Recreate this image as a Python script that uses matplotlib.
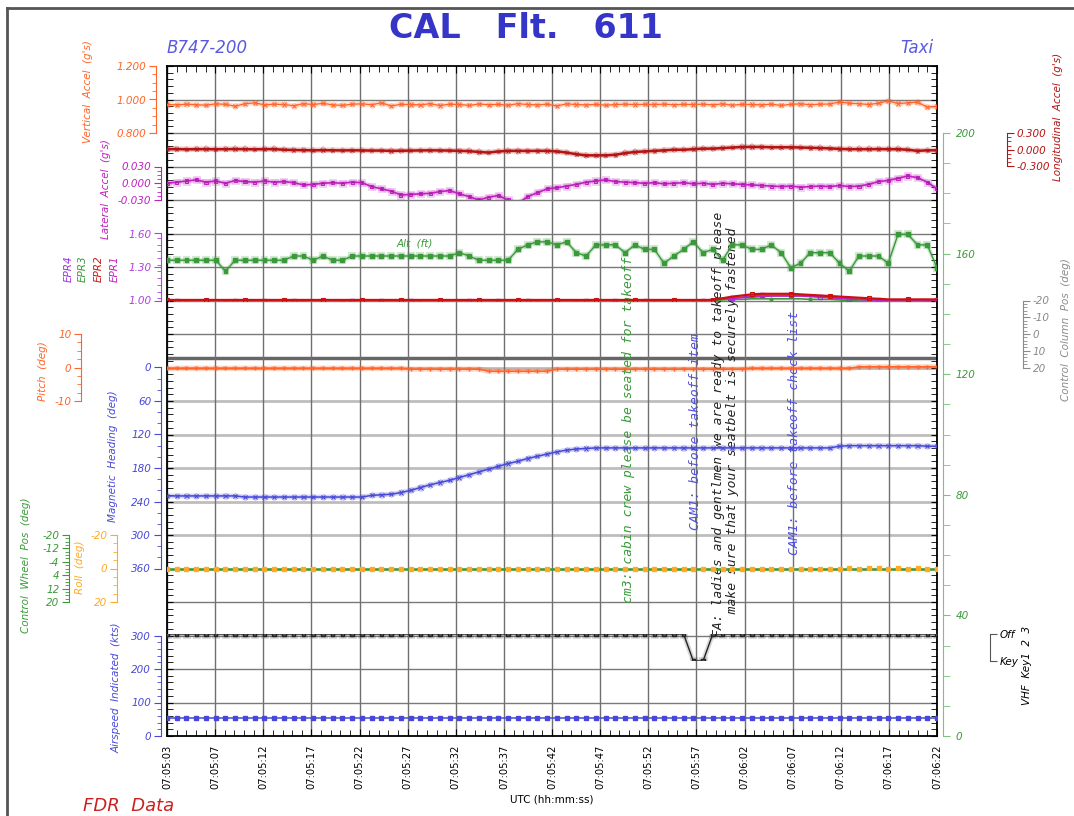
import numpy as np
import matplotlib.pyplot as plt
import matplotlib.patheffects as pe
from matplotlib.ticker import AutoMinorLocator, MultipleLocator

# ---- data (1 Hz samples, 07:05:03 .. 07:06:22) ----
t = np.arange(80)
time_labels = ['07:05:03', '07:05:07', '07:05:12', '07:05:17', '07:05:22', '07:05:27',
               '07:05:32', '07:05:37', '07:05:42', '07:05:47', '07:05:52', '07:05:57',
               '07:06:02', '07:06:07', '07:06:12', '07:06:17', '07:06:22']

vert_accel = [0.970, 0.968, 0.972, 0.969, 0.966, 0.974, 0.971, 0.960, 0.975, 0.980,
              0.968, 0.972, 0.970, 0.963, 0.975, 0.970, 0.977, 0.968, 0.965, 0.972,
              0.974, 0.969, 0.980, 0.962, 0.971, 0.970, 0.968, 0.975, 0.964, 0.972,
              0.970, 0.965, 0.973, 0.969, 0.971, 0.966, 0.975, 0.970, 0.968, 0.972,
              0.962, 0.974, 0.970, 0.968, 0.971, 0.966, 0.970, 0.972, 0.970, 0.971,
              0.970, 0.972, 0.969, 0.971, 0.970, 0.972, 0.968, 0.974, 0.966, 0.971,
              0.970, 0.968, 0.972, 0.965, 0.971, 0.974, 0.969, 0.972, 0.973, 0.985,
              0.978, 0.975, 0.970, 0.978, 0.992, 0.976, 0.980, 0.984, 0.955, 0.958]

long_accel = [0.010, 0.012, 0.008, 0.010, 0.011, 0.009, 0.010, 0.012, 0.010, 0.008,
              0.010, 0.011, 0.000, -0.005, -0.008, -0.010, -0.008, -0.010, -0.012, -0.010,
              -0.012, -0.015, -0.015, -0.020, -0.018, -0.015, -0.012, -0.010, -0.012, -0.015,
              -0.020, -0.025, -0.040, -0.050, -0.030, -0.020, -0.020, -0.022, -0.020, -0.020,
              -0.030, -0.050, -0.080, -0.100, -0.100, -0.100, -0.090, -0.060, -0.040, -0.030,
              -0.020, -0.010, 0.000, 0.000, 0.010, 0.020, 0.020, 0.030, 0.040, 0.050,
              0.050, 0.050, 0.045, 0.045, 0.045, 0.040, 0.035, 0.030, 0.025, 0.015,
              0.010, 0.010, 0.010, 0.012, 0.010, 0.010, 0.000, -0.020, -0.010, -0.010]

lat_accel = [0.000, 0.002, 0.004, 0.006, 0.002, 0.004, 0.000, 0.005, 0.003, 0.002,
             0.004, 0.002, 0.003, 0.001, -0.003, -0.002, 0.000, 0.001, 0.000, 0.002,
             0.001, -0.006, -0.010, -0.014, -0.021, -0.020, -0.019, -0.018, -0.015, -0.013,
             -0.019, -0.024, -0.030, -0.025, -0.022, -0.030, -0.036, -0.024, -0.017, -0.010,
             -0.008, -0.005, -0.002, 0.002, 0.004, 0.006, 0.003, 0.002, 0.001, 0.000,
             0.001, -0.001, 0.000, 0.001, -0.001, 0.000, -0.002, 0.000, -0.001, -0.002,
             -0.003, -0.004, -0.005, -0.006, -0.005, -0.007, -0.006, -0.005, -0.006, -0.004,
             -0.006, -0.005, -0.002, 0.003, 0.005, 0.009, 0.013, 0.010, 0.002, -0.010]

epr1 = [1.000] * 56 + [1.010, 1.015, 1.020, 1.025, 1.030, 1.035, 1.040, 1.040, 1.040, 1.040,
                       1.035, 1.030, 1.025, 1.020, 1.015, 1.010, 1.010] + [1.005] * 7
epr2 = [1.005] * 57 + [1.020, 1.035, 1.045, 1.055, 1.060, 1.060, 1.060, 1.060,
                       1.055, 1.050, 1.045, 1.040, 1.035, 1.030, 1.025, 1.020, 1.015] + [1.010] * 6
epr3 = [0.995] * 56 + [1.000, 1.005, 1.010, 1.010, 1.015, 1.015, 1.015, 1.015, 1.015, 1.015,
                       1.010, 1.010, 1.010, 1.005, 1.000] + [0.995] * 9
epr4 = [1.000] * 56 + [1.010, 1.020, 1.025, 1.030, 1.040, 1.045, 1.045, 1.045, 1.045, 1.045,
                       1.040, 1.035, 1.030, 1.020, 1.015, 1.010] + [1.005] * 8

alt_ft = [157.8, 157.8, 157.8, 157.8, 157.8, 157.8, 154.2, 157.8, 157.8, 157.8,
          157.8, 157.8, 157.8, 159.2, 159.2, 157.8, 159.2, 157.8, 157.8, 159.2,
          159.2, 159.2, 159.2, 159.2, 159.2, 159.2, 159.2, 159.2, 159.2, 159.2,
          160.3, 159.2, 157.8, 157.8, 157.8, 157.8, 161.4, 162.9, 163.9, 163.9,
          162.9, 163.9, 160.3, 159.2, 162.9, 162.9, 162.9, 160.3, 162.9, 161.4,
          161.4, 156.8, 159.2, 161.4, 163.9, 160.3, 161.4, 157.8, 162.9, 162.9,
          161.4, 161.4, 162.9, 160.3, 155.3, 156.8, 160.3, 160.3, 160.3, 156.8,
          154.2, 159.2, 159.2, 159.2, 156.8, 166.4, 166.4, 162.9, 162.9, 155.3]

pitch = [-0.25] * 25 + [-0.5] * 8 + [-1.1] * 7 + [-0.5] * 20 + [-0.25] * 11 + [0.2] * 9

heading = ([230] * 8 + [232] * 13 +
           [229, 228, 227, 224, 220, 215, 210, 206, 202, 197,
            192, 187, 182, 177, 172, 168, 163, 159, 155, 151] +
           [148, 146, 145] + [144] * 25 +
           [141, 140, 140, 140, 140, 140, 140, 140, 140, 141, 141])

roll = [0.0] * 70 + [-0.5, 0.0, -0.5, -0.5, 0.0, -0.5, 0.0, -0.5, 0.0, 0.0]
wheel = [0.0] * 80
airspeed = [54.5] * 80
vhf_key = [0] * 54 + [1, 1] + [0] * 24

# ---- layout (pixels of the 1074x816 picture) ----
W, H = 1074, 816
L, R, T, B = 167, 937, 66, 736
CELL = 33.5


def fx(px):
    return px / W


def fy(py):
    return 1 - py / H


def gy(py):  # grid units of the main axes
    return (B - py) / CELL


def halo(c, w=3.5):
    return [pe.Stroke(linewidth=w, foreground=c, alpha=0.22), pe.Normal()]


fig = plt.figure(figsize=(W / 100, H / 100), dpi=100)
fig.patch.set_facecolor('white')

# outer frame
fig.add_artist(plt.Line2D([fx(7), fx(7)], [fy(8), 0], color='#555555', lw=2))
fig.add_artist(plt.Line2D([fx(7), 1], [fy(8), fy(8)], color='#555555', lw=2))

ax = fig.add_axes([fx(L), fy(B), fx(R) - fx(L), (B - T) / H])
ax.set_xlim(0, 79)
ax.set_ylim(0, 20)
ax.set_xticks(np.linspace(0, 79, 17), time_labels, rotation=90, fontsize=7.2)
ax.xaxis.set_minor_locator(AutoMinorLocator(5))
ax.set_yticks(range(21), [''] * 21)
ax.yaxis.set_minor_locator(AutoMinorLocator(5))
ax.tick_params(axis='x', which='both', direction='in', top=True, pad=6)
ax.tick_params(axis='x', which='major', length=5)
ax.tick_params(axis='x', which='minor', length=4)
ax.tick_params(axis='y', which='both', direction='in', left=True, right=True, length=4)
ax.grid(axis='x', color='#707070', lw=1)
light_rows = [6, 7, 8, 9, 10, 11]
for k in range(1, 20):
    if k in light_rows:
        ax.axhline(k, color='#bdbdbd', lw=2, zorder=0.5)
    else:
        ax.axhline(k, color='#7a7a7a', lw=1, zorder=0.5)
ax.axhline(gy(357.5), color='#666666', lw=2.5, zorder=0.6)
for s in ax.spines.values():
    s.set_color('black')
    s.set_linewidth(1.3)
ax.text(0.5, -0.095, 'UTC (hh:mm:ss)', transform=ax.transAxes, ha='center', va='center', fontsize=7.5)


def band(top, bot, lo, hi, side, spine_x, color, ticks, labels, minor=None, lab_color=None):
    a = fig.add_axes([fx(L), fy(bot), fx(R) - fx(L), (bot - top) / H])
    a.patch.set_alpha(0)
    a.set_xlim(0, 79)
    a.set_ylim(lo, hi)
    a.xaxis.set_visible(False)
    for s in a.spines.values():
        s.set_visible(False)
    sp = a.spines[side]
    sp.set_visible(True)
    sp.set_color(color)
    sp.set_position(('axes', (spine_x - L) / (R - L)))
    a.yaxis.set_ticks_position(side)
    a.set_yticks(ticks, labels, fontstyle='italic', fontsize=7.5, color=lab_color or color)
    if minor is not None:
        a.yaxis.set_minor_locator(minor)
    a.tick_params(axis='y', which='major', length=5, color=color, pad=2)
    a.tick_params(axis='y', which='minor', length=3, color=color)
    return a


C_VA, C_LA, C_LAT = '#ff6428', '#b41414', '#c020c0'
C_EPR, C_GRN, C_BLU = '#b040e0', '#3a9a3a', '#4848d8'
C_ROLL, C_COL = '#ffaa22', '#8a8a8a'

a_va = band(T, T + 2 * CELL, 0.8, 1.2, 'left', 156, C_VA, [0.8, 1.0, 1.2],
            ['0.800', '1.000', '1.200'], MultipleLocator(0.05))
a_va.plot(t, vert_accel, color=C_VA, lw=0.9, marker='x', ms=3, mew=0.7, path_effects=halo(C_VA))

a_lo = band(T + 2 * CELL, T + 3 * CELL, -0.3, 0.3, 'right', 1007, C_LA, [-0.3, 0, 0.3],
            ['-0.300', '0.000', '0.300'], MultipleLocator(0.075))
a_lo.plot(t, long_accel, color=C_LA, lw=1.8, marker='x', ms=2.5, mew=0.6, path_effects=halo(C_LA, 4))

a_lat = band(T + 3 * CELL, T + 4 * CELL, -0.03, 0.03, 'left', 161, C_LAT, [-0.03, 0, 0.03],
             ['-0.030', '0.000', '0.030'], MultipleLocator(0.0075))
a_lat.plot(t, lat_accel, color=C_LAT, lw=1.2, marker='s', ms=2.2, mfc='none', mew=0.7,
           path_effects=halo(C_LAT))

a_epr = band(T + 5 * CELL, T + 7 * CELL, 1.0, 1.6, 'left', 161, C_EPR, [1.0, 1.3, 1.6],
             ['1.00', '1.30', '1.60'], MultipleLocator(0.06))
a_epr.plot(t, epr3, color=C_GRN, lw=1.2, marker='o', ms=2, markevery=(2, 4))
a_epr.plot(t, epr4, color='#9a30e0', lw=1.2, marker='s', ms=2.5, mfc='none', markevery=(1, 3))
a_epr.plot(t, epr1, color=C_LAT, lw=1.2)
a_epr.plot(t, epr2, color='#cc1010', lw=1.6, marker='s', ms=3, mfc='none', mew=0.8, markevery=(0, 4))

a_cc = band(T + 7 * CELL, T + 9 * CELL, 20, -20, 'right', 1023, C_COL, [-20, -10, 0, 10, 20],
            ['-20', '-10', '0', '10', '20'], MultipleLocator(2))

a_pi = band(T + 8 * CELL, T + 10 * CELL, -10, 10, 'left', 81, C_VA, [-10, 0, 10],
            ['-10', '0', '10'], MultipleLocator(2.5))
a_pi.plot(t, pitch, color=C_VA, lw=1.2, marker='|', ms=3, path_effects=halo(C_VA, 4))

a_hd = band(T + 9 * CELL, T + 15 * CELL, 360, 0, 'left', 161, C_BLU, list(range(0, 361, 60)),
            [str(v) for v in range(0, 361, 60)], MultipleLocator(20))
a_hd.plot(t, heading, color=C_BLU, lw=1.1, marker='x', ms=3, mew=0.7, path_effects=halo(C_BLU))

a_wh = band(T + 14 * CELL, T + 16 * CELL, 20, -20, 'left', 69, C_GRN, [-20, -12, -4, 4, 12, 20],
            ['-20', '-12', '-4', '4', '12', '20'], MultipleLocator(2))
a_ro = band(T + 14 * CELL, T + 16 * CELL, 20, -20, 'left', 117, C_ROLL, [-20, 0, 20],
            ['-20', '0', '20'], MultipleLocator(5))
a_wh.plot(t, wheel, color=C_GRN, lw=1.8)
a_ro.plot(t, roll, color=C_ROLL, lw=0, marker='s', ms=2.2)

a_as = band(T + 17 * CELL, B, 0, 300, 'left', 161, C_BLU, [0, 100, 200, 300],
            ['0', '100', '200', '300'], MultipleLocator(20))
a_as.plot(t, airspeed, color=C_BLU, lw=1.1, marker='s', ms=2.2)

a_vhf = band(634, 661, 1, 0, 'right', 990, '#555555', [0, 1], ['Off', 'Key'], lab_color='black')
a_vhf.plot(t, vhf_key, color='#222222', lw=1.0, marker='s', ms=2.5, mfc='#555555',
           path_effects=halo('#555555'))

a_alt = band(133, B, 0, 200, 'right', 943, '#7cc47c', list(range(0, 201, 40)),
             [str(v) for v in range(0, 201, 40)], MultipleLocator(10), lab_color=C_GRN)
a_alt.tick_params(axis='y', which='both', length=5, pad=4)
a_alt.plot(t, alt_ft, color=C_GRN, lw=1.0, marker='s', ms=2.8, path_effects=halo(C_GRN, 3))

# ---- axis titles ----
lab = dict(rotation=90, ha='center', va='center', fontstyle='italic', fontsize=7.5)
fig.text(fx(88), fy(92), "Vertical  Accel  (g's)", color=C_VA, **lab)
fig.text(fx(106), fy(189), "Lateral  Accel  (g's)", color=C_LAT, **lab)
fig.text(fx(69), fy(269), 'EPR4', color='#9a30e0', **lab)
fig.text(fx(83), fy(269), 'EPR3', color=C_GRN, **lab)
fig.text(fx(99), fy(269), 'EPR2', color='#cc1010', **lab)
fig.text(fx(115), fy(269), 'EPR1', color=C_LAT, **lab)
fig.text(fx(43), fy(371), 'Pitch  (deg)', color=C_VA, **lab)
fig.text(fx(113), fy(456), 'Magnetic  Heading  (deg)', color=C_BLU, **lab)
fig.text(fx(26), fy(565), 'Control  Wheel  Pos  (deg)', color=C_GRN, **lab)
fig.text(fx(80), fy(567), 'Roll  (deg)', color=C_ROLL, **lab)
fig.text(fx(117), fy(688), 'Airspeed  Indicated  (kts)', color=C_BLU, **lab)
fig.text(fx(1058), fy(117), "Longitudinal  Accel  (g's)", color=C_LA, **lab)
fig.text(fx(1066), fy(330), 'Control  Column  Pos  (deg)', color=C_COL, **lab)
fig.text(fx(1027), fy(665), 'VHF  Key1  2  3', color='black', **lab)
ax.text(25.4, gy(243), 'Alt  (ft)', color=C_GRN, fontstyle='italic', fontsize=7.5,
        ha='center', va='center')

# ---- cockpit voice annotations ----
note = dict(rotation=90, rotation_mode='anchor', ha='left', va='center',
            family='DejaVu Sans Mono', fontstyle='italic', fontsize=9.4)
ax.text(47.3, gy(603), 'cm3: cabin crew please be seated for takeoff', color=C_GRN, **note)
ax.text(54.2, gy(530), 'CAM1: before takeoff item', color='#5050e0', **note)
ax.text(57.3, gy(637), 'FA: ladies and gentlmen we are ready to takeoff please\n'
        '   make sure that your seatbelt is securely fastened', color='#222222',
        linespacing=1.1, **note)
ax.text(64.4, gy(555), 'CAM1: before takeoff check list', color='#5050e0', **note)

# ---- headings ----
fig.text(fx(526), fy(28), 'CAL   Flt.   611', ha='center', va='center', fontsize=24,
         fontweight='bold', color='#3535c8')
fig.text(fx(167), fy(48), 'B747-200', ha='left', va='center', fontsize=12,
         fontstyle='italic', color='#5a5ae0')
fig.text(fx(933), fy(48), 'Taxi', ha='right', va='center', fontsize=12,
         fontstyle='italic', color='#5a5ae0')
fig.text(fx(83), fy(806), 'FDR  Data', ha='left', va='center', fontsize=13,
         fontstyle='italic', color='#cc2020')

fig.savefig('out.png', dpi=100)
